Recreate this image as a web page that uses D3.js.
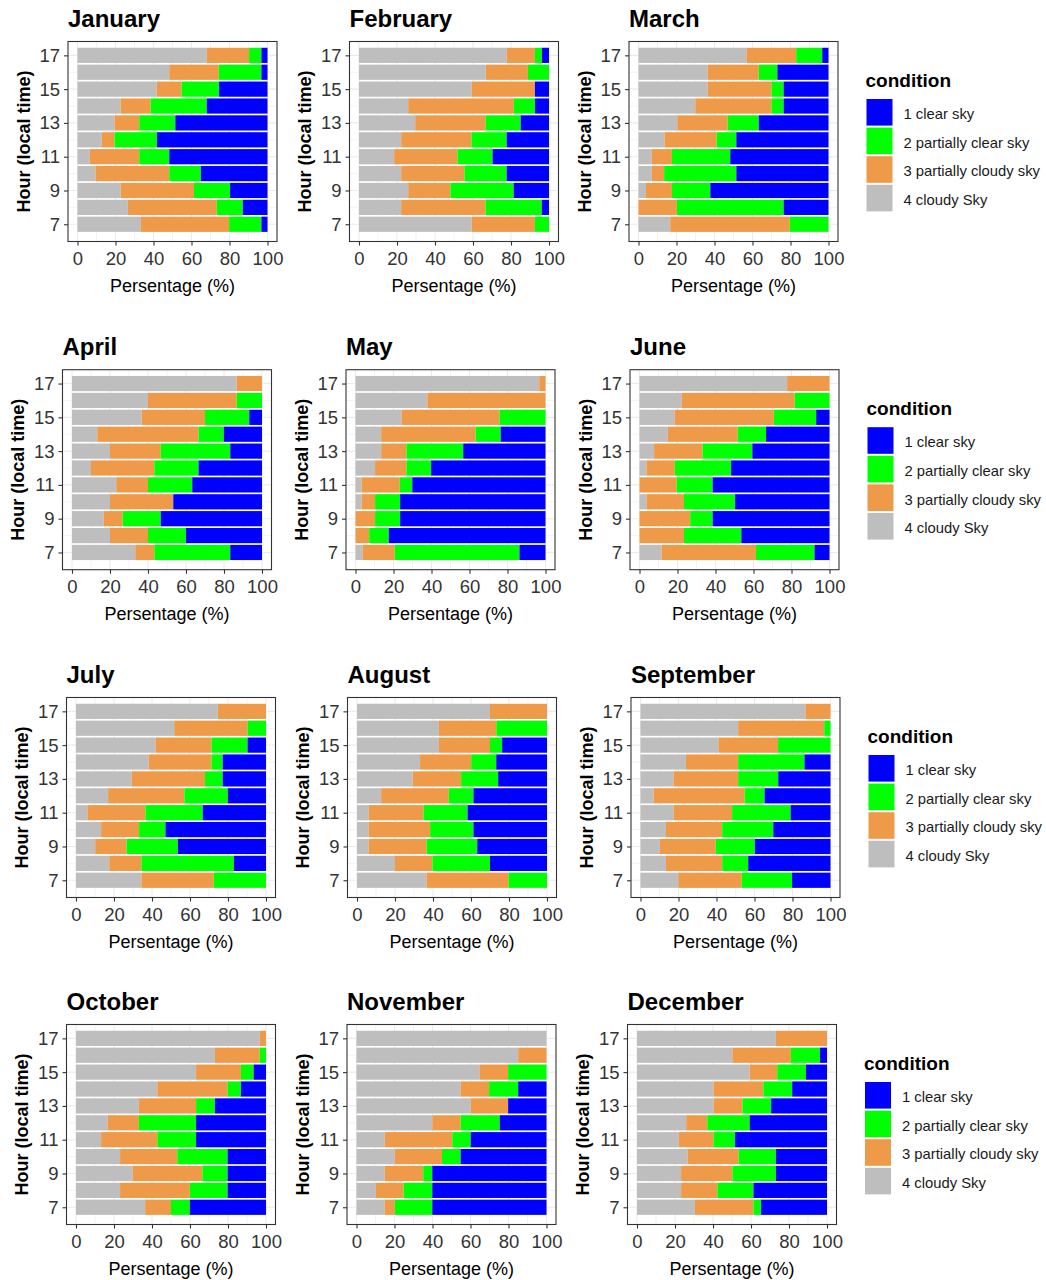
<!DOCTYPE html>
<html>
<head>
<meta charset="utf-8">
<script src="https://cdn.jsdelivr.net/npm/d3@7"></script>
<style>
  html, body { margin: 0; padding: 0; background: #fff; }
  svg { display: block; font-family: "Liberation Sans", Arial, sans-serif; }
</style>
</head>
<body>
<svg id="chart" width="1046" height="1280"></svg>
<script>
// Hourly sky-condition frequencies (%) per month, hours 7..17.
// Each row: [4 cloudy Sky, 3 partially cloudy sky, 2 partially clear sky, 1 clear sky]
const hours = [7, 8, 9, 10, 11, 12, 13, 14, 15, 16, 17];
const monthNames = ["January", "February", "March", "April", "May", "June",
  "July", "August", "September", "October", "November", "December"];
const conditionKeys = ["cloudy", "pcloudy", "pclear", "clear"];
const conditionLabels = ["1 clear sky", "2 partially clear sky", "3 partially cloudy sky", "4 cloudy Sky"];
const conditionColors = { clear: "#0000FF", pclear: "#00FF00", pcloudy: "#EE9A49", cloudy: "#BEBEBE" };
const xTicks = [0, 20, 40, 60, 80, 100];
const yTicks = [7, 9, 11, 13, 15, 17];

const jan = [[33.4,46.4,17.0,3.2],[26.5,46.8,13.7,13.0],[22.7,38.6,19.0,19.7],[9.5,38.8,16.6,35.1],
  [6.5,26.0,15.8,51.7],[12.8,6.7,22.3,58.2],[19.5,13.0,19.0,48.5],[22.7,15.8,29.5,32.0],
  [41.7,13.1,19.7,25.5],[48.3,26.0,22.5,3.2],[68.0,22.3,6.5,3.2]];
const feb = [[59.3,33.3,7.4,0],[22.2,44.4,29.6,3.8],[25.9,22.2,33.3,18.6],[22.2,33.3,22.2,22.3],
  [18.5,33.3,18.5,29.7],[22.2,37.0,18.5,22.3],[29.6,37.0,18.5,14.9],[25.9,55.6,11.1,7.4],
  [59.3,33.3,0,7.4],[66.7,22.2,11.1,0],[77.8,14.8,3.7,3.7]];
const mar = [[16.7,62.9,20.4,0],[0,20.2,56.2,23.6],[3.9,13.7,20.2,62.2],[7.0,6.5,38.0,48.5],
  [7.0,10.6,30.7,51.7],[13.7,27.4,10.4,48.5],[20.4,26.5,16.4,36.7],[29.9,40.1,6.4,23.6],
  [36.4,33.6,6.4,23.6],[36.4,26.9,9.8,26.9],[56.8,26.2,13.7,3.3]];
const apr = [[33.3,10.0,40.0,16.7],[20.0,20.0,20.0,40.0],[16.7,10.0,20.0,53.3],[20.0,33.3,0,46.7],
  [23.3,16.7,23.3,36.7],[10.0,33.3,23.3,33.4],[20.0,26.7,36.6,16.7],[13.3,53.3,13.3,20.1],
  [36.7,33.3,23.3,6.7],[40.0,46.7,13.3,0],[86.7,13.3,0,0]];
const may = [[3.7,17.0,65.6,13.7],[0,7.2,10.3,82.5],[0,10.3,13.2,76.5],[3.2,7.1,13.2,76.5],
  [3.2,20.1,6.6,70.1],[10.3,16.5,13.0,60.2],[13.5,13.3,29.9,43.3],[13.5,49.7,13.2,23.6],
  [24.2,51.6,24.2,0],[37.8,62.2,0,0],[96.7,3.3,0,0]];
const jun = [[11.6,49.7,30.8,7.9],[0,23.4,30.2,46.4],[0,26.7,11.8,61.5],[3.7,19.7,26.9,49.7],
  [0,19.5,19.0,61.5],[3.7,14.9,29.6,51.8],[7.7,25.5,26.2,40.6],[14.9,36.8,14.9,33.4],
  [18.6,52.1,22.3,7.0],[22.3,59.4,18.3,0],[77.7,22.3,0,0]];
const jul = [[34.4,38.1,27.5,0],[17.5,16.9,48.7,16.9],[10.1,16.5,27.0,46.4],[13.2,20.0,13.9,52.9],
  [6.0,30.5,30.2,33.3],[16.9,40.1,22.9,20.1],[29.3,38.6,9.3,22.8],[38.3,33.0,5.9,22.8],
  [41.8,29.5,19.0,9.7],[51.7,38.6,9.7,0],[74.6,25.4,0,0]];
const aug = [[36.6,43.2,20.2,0],[20.0,19.7,30.3,30.0],[6.2,30.4,26.7,36.7],[6.2,32.3,22.8,38.7],
  [6.2,28.8,23.2,41.8],[12.7,35.6,13.0,38.7],[29.3,25.5,19.5,25.7],[33.2,26.9,13.2,26.7],
  [43.1,26.9,6.4,23.6],[43.1,30.2,26.7,0],[70.0,30.0,0,0]];
const sep = [[19.9,33.4,26.5,20.2],[13.4,29.6,13.7,43.3],[10.2,29.4,20.6,39.8],[13.4,29.6,26.9,30.1],
  [17.4,30.8,30.8,21.0],[6.9,47.9,10.5,34.7],[17.4,34.0,21.1,27.5],[23.9,27.5,34.9,13.7],
  [41.0,31.4,27.6,0],[51.4,45.3,3.3,0],[86.8,13.2,0,0]];
const oct = [[36.4,13.6,9.9,40.1],[23.2,36.7,19.9,20.2],[29.9,36.6,13.3,20.2],[23.2,30.1,26.5,20.2],
  [13.2,29.6,20.4,36.8],[16.7,16.4,30.1,36.8],[33.1,30.1,9.9,26.9],[42.8,37.0,7.0,13.2],
  [63.2,23.6,6.7,6.5],[73.1,23.6,3.3,0],[96.7,3.3,0,0]];
const nov = [[14.9,5.3,19.7,60.1],[10.2,14.6,15.1,60.1],[14.9,20.2,4.8,60.1],[20.2,24.8,9.8,45.2],
  [14.9,35.5,9.7,39.9],[39.9,14.9,20.6,24.6],[60.1,19.7,0,20.2],[54.8,15.0,15.3,14.9],
  [64.7,15.1,20.2,0],[85.1,14.9,0,0],[100,0,0,0]];
const dec = [[30.5,30.8,4.0,34.7],[23.2,19.1,19.0,38.7],[23.2,27.0,22.9,26.9],[26.6,26.9,19.6,26.9],
  [22.0,18.3,11.3,48.4],[25.9,11.1,22.3,40.7],[40.3,15.2,15.1,29.4],[40.3,26.2,15.2,18.3],
  [59.3,14.5,15.1,11.1],[50.2,30.8,15.3,3.7],[73.1,26.9,0,0]];

const monthData = [jan, feb, mar, apr, may, jun, jul, aug, sep, oct, nov, dec];

// Layout of the 4 x 3 grid of panels
const panelLefts = [[68, 349.5, 629], [62.5, 346, 630], [66.5, 347.5, 631], [66.5, 347, 627.5]];
const rowTops = [41.5, 369.7, 697.5, 1024.5];
const panelW = 209, panelH = 200;

const svg = d3.select("#chart");
const stack = d3.stack().keys(conditionKeys);
const FONT = '"Liberation Sans", Arial, sans-serif';

monthData.forEach((rows, i) => {
  const r = Math.floor(i / 3), c = i % 3;
  const left = panelLefts[r][c], top = rowTops[r];
  const records = rows.map((v, k) => ({ hour: hours[k], cloudy: v[0], pcloudy: v[1], pclear: v[2], clear: v[3] }));
  const series = stack(records);

  const x = d3.scaleLinear().domain([-5, 105]).range([left, left + panelW]);
  const y = d3.scaleLinear().domain([5.98, 17.82]).range([top + panelH, top]);
  const g = svg.append("g");

  // panel background & grid
  g.append("rect").attr("x", left).attr("y", top).attr("width", panelW).attr("height", panelH).attr("fill", "#fff");
  const minorX = [10, 30, 50, 70, 90], minorY = [8, 10, 12, 14, 16];
  g.selectAll(".gx").data(xTicks.concat(minorX)).join("line")
    .attr("x1", d => x(d)).attr("x2", d => x(d)).attr("y1", top).attr("y2", top + panelH)
    .attr("stroke", "#EBEBEB").attr("stroke-width", d => xTicks.includes(d) ? 1.1 : 0.6);
  g.selectAll(".gy").data(yTicks.concat(minorY)).join("line")
    .attr("y1", d => y(d)).attr("y2", d => y(d)).attr("x1", left).attr("x2", left + panelW)
    .attr("stroke", "#EBEBEB").attr("stroke-width", d => yTicks.includes(d) ? 1.1 : 0.6);

  // stacked bars
  g.selectAll("g.layer").data(series).join("g")
    .attr("fill", d => conditionColors[d.key])
    .selectAll("rect").data(d => d).join("rect")
    .attr("x", d => x(d[0]))
    .attr("width", d => Math.max(0, x(d[1]) - x(d[0])))
    .attr("y", d => y(d.data.hour + 0.45))
    .attr("height", d => y(d.data.hour - 0.45) - y(d.data.hour + 0.45));

  // border
  g.append("rect").attr("x", left).attr("y", top).attr("width", panelW).attr("height", panelH)
    .attr("fill", "none").attr("stroke", "#333").attr("stroke-width", 1.1);

  // axes
  const ax = g.append("g").attr("transform", `translate(0,${top + panelH})`)
    .call(d3.axisBottom(x).tickValues(xTicks).tickSize(4).tickPadding(6));
  const ay = g.append("g").attr("transform", `translate(${left},0)`)
    .call(d3.axisLeft(y).tickValues(yTicks).tickSize(4).tickPadding(4));
  [ax, ay].forEach(a => {
    a.select(".domain").remove();
    a.selectAll(".tick line").attr("stroke", "#333").attr("stroke-width", 1.1);
    a.selectAll(".tick text").attr("fill", "#333").style("font-size", "18.5px").style("font-family", FONT);
  });

  // titles
  g.append("text").attr("x", left).attr("y", top - 14.5).text(monthNames[i])
    .style("font-size", "24px").style("font-weight", "bold").attr("fill", "#000");
  g.append("text").attr("x", left + panelW / 2).attr("y", top + panelH + 50)
    .attr("text-anchor", "middle").text("Persentage (%)").style("font-size", "18px").attr("fill", "#000");
  g.append("text").attr("transform", `translate(${left - 38.5},${top + panelH / 2}) rotate(-90)`)
    .attr("text-anchor", "middle").text("Hour (local time)")
    .style("font-size", "18px").style("font-weight", "bold").attr("fill", "#000");

  // legend beside the right-most panel of each row
  if (c === 2) {
    const lx = left + panelW + 27.5;
    const lg = svg.append("g");
    lg.append("text").attr("x", lx).attr("y", top + 45).text("condition")
      .style("font-size", "19px").style("font-weight", "bold").attr("fill", "#000");
    const legendOrder = ["clear", "pclear", "pcloudy", "cloudy"];
    legendOrder.forEach((k, j) => {
      const ky = top + 56.5 + j * 28.6;
      lg.append("rect").attr("x", lx + 1).attr("y", ky + 1).attr("width", 26).attr("height", 26.6)
        .attr("fill", conditionColors[k]);
      lg.append("text").attr("x", lx + 38).attr("y", ky + 16).attr("dy", "0.35em")
        .text(conditionLabels[j]).style("font-size", "14.8px").attr("fill", "#1a1a1a");
    });
  }
});
</script>
</body>
</html>
